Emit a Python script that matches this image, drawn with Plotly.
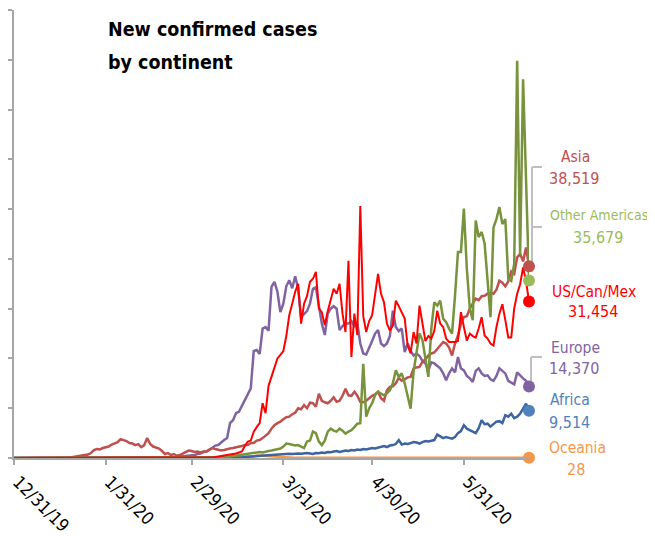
import pandas as pd
import plotly.graph_objects as go

# ---------------- data (daily new cases, thousands; last point = 2020-06-22) ----------------
END_DATE = "2020-06-22"

asia_k = [0.0] * 17 + [
    0.05, 0.1, 0.1, 0.2, 0.3, 0.3, 0.5, 0.5, 0.7, 1.0,            # d17-26
    1.6, 1.8, 1.7, 2.0, 2.1, 2.3, 2.7, 3.0, 3.2, 3.8,             # d27-36
    3.6, 3.4, 3.0, 2.9, 2.6, 2.8, 2.2, 2.6, 4.0, 2.8,             # d37-46
    2.3, 2.1, 1.9, 1.4, 0.8, 1.0, 0.6, 0.8, 0.45, 0.6,            # d47-56
    0.9, 1.1, 1.5, 1.4, 1.2, 1.3, 1.1, 1.3, 1.3, 1.7,             # d57-66
    2.0, 1.8, 1.6, 1.5, 1.6, 1.8, 1.9, 2.0, 2.1, 2.2,             # d67-76
    2.4, 2.6, 2.6, 3.0, 3.0, 3.5, 3.6, 4.0, 4.5, 5.0,             # d77-86
    5.9, 6.6, 7.0, 7.3, 7.8, 8.2, 8.3, 8.8, 9.1, 10.0,            # d87-96
    9.8, 10.6, 10.0, 11.1, 11.0, 10.3, 12.9, 11.5, 11.2, 11.0,    # d97-106
    11.5, 12.2, 11.3, 11.5, 12.5, 13.9, 12.6, 12.5, 13.3, 12.5,   # d107-116
    11.3, 11.2, 11.5, 12.0, 12.5, 12.8, 13.3, 12.0, 11.5, 13.6,   # d117-126
    14.3, 14.4, 15.0, 16.1, 15.5, 15.8, 16.2, 16.3, 18.0, 18.2,   # d127-136
    18.3, 19.3, 19.8, 20.6, 21.0, 21.2, 21.9, 22.5, 23.3, 23.0,   # d137-146
    22.2, 20.6, 23.0, 24.6, 27.0, 28.3, 28.5, 30.0, 31.0, 32.0,   # d147-156
    31.7, 32.5, 32.6, 33.0, 33.2, 33.0, 33.8, 35.6, 35.2, 34.5,   # d157-166
    35.5, 37.5, 37.0, 40.3, 41.0, 39.5, 42.3, 38.519,             # d167-174
]

other_americas_k = [0.0] * 66 + [
    0.02, 0.05, 0.05, 0.1,                                        # d66-69
    0.1, 0.15, 0.2, 0.3, 0.35, 0.45, 0.5, 0.6, 0.7, 0.8,          # d70-79
    0.9, 1.0, 1.1, 1.2, 1.1, 1.3, 1.4, 1.5, 1.6, 1.7,             # d80-89
    1.9, 2.3, 2.9, 2.8, 2.6, 2.5, 2.6, 2.3, 2.0, 3.3,             # d90-99
    3.5, 5.3, 5.0, 3.3, 2.6, 3.5, 5.3, 5.9, 5.5, 5.3,             # d100-109
    5.9, 5.5, 4.9, 5.3, 5.6, 6.2, 6.9, 7.0, 18.9, 8.3,            # d110-119
    10.0, 11.0, 12.6, 13.3, 13.0, 12.6, 13.0, 13.6, 15.0, 17.6,   # d120-129
    16.3, 17.0, 15.0, 12.6, 9.9, 17.3, 21.3, 25.0, 23.7, 20.0,    # d130-139
    16.3, 26.0, 31.3, 30.6, 31.6, 28.0, 27.3, 26.0, 25.0, 32.6,   # d140-149
    41.4, 41.4, 50.1, 38.0, 30.0, 27.7, 47.7, 44.4, 45.4, 43.1,   # d150-159
    36.4, 28.3, 46.3, 48.0, 50.4, 47.0, 48.0, 36.0, 35.6, 39.0,   # d160-169
    79.8, 40.8, 76.1, 55.0, 35.679,                               # d170-174
]

us_can_mex_k = [0.0] * 65 + [
    0.05, 0.1, 0.15, 0.2, 0.3,                                    # d65-69
    0.3, 0.4, 0.5, 0.6, 0.8, 0.9, 1.1, 1.3, 2.4, 3.3,             # d70-79
    3.5, 5.3, 6.2, 7.0, 11.0, 9.0, 14.5, 16.5, 18.3, 20.0,        # d80-89
    20.7, 21.5, 24.5, 28.7, 31.0, 33.4, 35.0, 27.0, 31.0, 32.5,   # d90-99
    35.4, 36.0, 37.4, 30.0, 29.3, 26.7, 29.5, 31.5, 34.0, 33.0,   # d100-109
    35.0, 29.0, 25.3, 39.6, 20.3, 29.0, 24.7, 50.6, 28.5, 25.3,   # d110-119
    27.5, 28.7, 33.0, 37.0, 33.0, 31.3, 27.0, 25.6, 26.6, 31.6,   # d120-129
    30.5, 29.3, 28.0, 22.6, 21.0, 25.3, 23.0, 30.6, 27.0, 23.5,   # d130-139
    24.5, 24.0, 25.5, 29.6, 27.0, 26.3, 24.0, 23.3, 23.3, 23.3,   # d140-149
    23.5, 29.3, 26.3, 23.6, 25.0, 24.5, 24.2, 26.0, 28.3, 24.6,   # d150-159
    24.0, 23.0, 22.6, 26.3, 29.0, 30.9, 27.7, 24.2, 24.2, 30.0,   # d160-169
    33.0, 34.9, 38.3, 35.5, 31.454,                               # d170-174
]

europe_k = [0.0] * 52 + [
    0.05, 0.1, 0.15, 0.2, 0.25, 0.3, 0.35, 0.45,                  # d52-59
    0.5, 0.6, 0.8, 0.9, 1.2, 1.3, 1.6, 2.0, 2.5, 2.6,             # d60-69
    3.2, 3.6, 4.0, 7.0, 7.6, 9.0, 9.3, 10.5, 11.6, 12.9,          # d70-79
    14.0, 21.5, 21.7, 20.9, 26.0, 26.3, 25.6, 34.4, 35.4, 33.4,   # d80-89
    29.3, 31.0, 34.5, 35.7, 34.1, 36.5, 34.0, 28.3, 29.0, 29.5,   # d90-99
    31.0, 34.0, 34.3, 31.0, 27.0, 24.7, 29.0, 30.0, 30.5, 30.0,   # d100-109
    25.7, 26.5, 27.0, 27.0, 27.5, 26.5, 27.0, 23.0, 21.0, 20.8,   # d110-119
    22.0, 23.5, 25.0, 25.7, 23.0, 22.5, 23.0, 24.5, 29.6, 26.3,   # d120-129
    25.5, 26.0, 21.3, 23.0, 21.5, 20.6, 21.0, 20.5, 19.5, 19.0,   # d130-139
    17.6, 19.2, 19.0, 18.5, 18.0, 17.0, 15.6, 17.0, 18.0, 17.2,   # d140-149
    20.3, 18.0, 17.6, 16.5, 16.0, 15.3, 17.5, 18.0, 17.0, 16.5,   # d150-159
    16.6, 15.8, 15.5, 16.5, 18.0, 17.5, 17.0, 15.5, 15.2, 14.8,   # d160-169
    17.2, 16.5, 16.0, 15.5, 14.370,                               # d170-174
]

africa_k = [0.0] * 70 + [
    0.02, 0.03, 0.05, 0.06, 0.08, 0.1, 0.12, 0.15, 0.2, 0.25,     # d70-79
    0.3, 0.35, 0.4, 0.45, 0.5, 0.5, 0.55, 0.6, 0.65, 0.7,         # d80-89
    0.7, 0.75, 0.8, 0.85, 0.8, 0.9, 0.9, 0.85, 0.95, 1.0,         # d90-99
    0.9, 0.8, 1.0, 0.95, 1.1, 1.0, 1.2, 1.15, 1.3, 1.4,           # d100-109
    1.2, 1.3, 1.5, 1.4, 1.6, 1.5, 1.7, 1.6, 1.8, 1.7,             # d110-119
    1.9, 2.0, 1.9, 2.1, 2.3, 2.4, 2.2, 2.5, 2.6, 2.8,             # d120-129
    3.6, 2.7, 2.9, 2.8, 3.0, 3.2, 3.1, 2.9, 3.2, 3.4,             # d130-139
    3.3, 3.4, 3.6, 4.7, 4.3, 4.0, 4.2, 4.0, 3.9, 4.2,             # d140-149
    5.0, 5.4, 6.6, 5.9, 5.6, 5.2, 5.0, 6.0, 7.6, 6.8,             # d150-159
    6.9, 6.3, 6.8, 7.3, 7.4, 7.0, 8.6, 8.3, 8.9, 8.0,             # d160-169
    8.3, 8.9, 9.9, 10.9, 9.514,                                   # d170-174
]

oceania_k = [0.0] * 70 + [
    0.02, 0.03, 0.05, 0.08, 0.1, 0.15, 0.2, 0.25, 0.3, 0.35,      # d70-79
    0.4, 0.45, 0.4, 0.45, 0.5, 0.4, 0.35, 0.35, 0.3, 0.3,         # d80-89
    0.25, 0.2, 0.15, 0.12, 0.1, 0.1, 0.08, 0.06, 0.05, 0.05,      # d90-99
] + [0.03, 0.02, 0.04, 0.03, 0.02] * 14 + [0.03, 0.02, 0.04, 0.03, 0.028]

series_names = ["Oceania", "Africa", "Europe", "Asia", "Other Americas", "US/Can/Mex"]
series_values = [oceania_k, africa_k, europe_k, asia_k, other_americas_k, us_can_mex_k]
latest_labels = ["28", "9,514", "14,370", "38,519", "35,679", "31,454"]

tick_dates = ["2019-12-31", "2020-01-31", "2020-02-29", "2020-03-31", "2020-04-30", "2020-05-31"]
tick_labels = ["12/31/19", "1/31/20", "2/29/20", "3/31/20", "4/30/20", "5/31/20"]

# ---------------- styles ----------------
line_colors = {"Oceania": "#F79646", "Africa": "#3C64A0", "Europe": "#8064A2",
               "Asia": "#C0504D", "Other Americas": "#77933C", "US/Can/Mex": "#FF0000"}
dot_colors = {"Oceania": "#F79646", "Africa": "#4F81BD", "Europe": "#8064A2",
              "Asia": "#C0504D", "Other Americas": "#9BBB59", "US/Can/Mex": "#FF0000"}
line_widths = {"Oceania": 2.5, "Africa": 2.5, "Europe": 2.5, "Asia": 2.5,
               "Other Americas": 2.5, "US/Can/Mex": 2.0}
FONT = "'Liberation Sans Narrow', 'Arial Narrow', 'DejaVu Sans Condensed', sans-serif"
name_sizes = {"Asia": 15.5, "Other Americas": 14, "US/Can/Mex": 15.5,
              "Europe": 15.5, "Africa": 15.5, "Oceania": 15.5}

fig = go.Figure()
for name, vals in zip(series_names, series_values):
    dates = pd.date_range(end=END_DATE, periods=len(vals), freq="D")
    y = [v * 1000 for v in vals]
    fig.add_trace(go.Scatter(x=dates, y=y, mode="lines",
                             line=dict(color=line_colors[name], width=line_widths[name]),
                             showlegend=False, hoverinfo="skip"))
for name, vals in zip(series_names, series_values):
    dates = pd.date_range(end=END_DATE, periods=len(vals), freq="D")
    fig.add_trace(go.Scatter(x=[dates[-1]], y=[vals[-1] * 1000], mode="markers",
                             marker=dict(color=dot_colors[name], size=12),
                             cliponaxis=False, showlegend=False, hoverinfo="skip"))

# page has an 8px body margin; plot area on the page: x 14..529, y 10..458
def px(X):
    return (X - 14) / 515.0

def py(Y):
    return (458 - Y) / 448.0

annotations = []
label_pos = {  # (X centre, Y name, Y value) in page pixels
    "Asia": (575, 157, 178.5),
    "Other Americas": (599, 215, 237.5),
    "US/Can/Mex": (594, 292, 311.5),
    "Europe": (575, 348, 368.5),
    "Africa": (570, 400, 422.5),
    "Oceania": (577, 447.5, 469),
}
for name, lab in zip(series_names, latest_labels):
    X, Yn, Yv = label_pos[name]
    annotations.append(dict(x=px(X), y=py(Yn), xref="paper", yref="paper", text=name,
                            showarrow=False, xanchor="center", yanchor="middle",
                            font=dict(family=FONT, size=name_sizes[name], color=dot_colors[name])))
    annotations.append(dict(x=px(X - 1), y=py(Yv), xref="paper", yref="paper", text=lab,
                            showarrow=False, xanchor="center", yanchor="middle",
                            font=dict(family=FONT, size=16, color=dot_colors[name])))

annotations.append(dict(x=px(106), y=py(29), xref="paper", yref="paper",
                        text="<b>New confirmed cases</b>", showarrow=False,
                        xanchor="left", yanchor="middle",
                        font=dict(family=FONT, size=19.5, color="#000000")))
annotations.append(dict(x=px(106), y=py(63), xref="paper", yref="paper",
                        text="<b>by continent</b>", showarrow=False,
                        xanchor="left", yanchor="middle",
                        font=dict(family=FONT, size=19.5, color="#000000")))

bracket = dict(color="#BFBFBF", width=2)
shapes = [
    dict(type="line", xref="paper", yref="paper", x0=px(532), x1=px(532), y0=py(167), y1=py(272), line=bracket, layer="below"),
    dict(type="line", xref="paper", yref="paper", x0=px(532), x1=px(542), y0=py(167), y1=py(167), line=bracket, layer="below"),
    dict(type="line", xref="paper", yref="paper", x0=px(532), x1=px(542), y0=py(227), y1=py(227), line=bracket, layer="below"),
    dict(type="line", xref="paper", yref="paper", x0=px(531), x1=px(531), y0=py(357), y1=py(384), line=bracket, layer="below"),
    dict(type="line", xref="paper", yref="paper", x0=px(531), x1=px(542), y0=py(357), y1=py(357), line=bracket, layer="below"),
]

fig.update_layout(
    width=647, height=528,
    margin=dict(l=6, r=126, t=2, b=78),
    paper_bgcolor="white", plot_bgcolor="rgba(0,0,0,0)",
    annotations=annotations, shapes=shapes,
    font=dict(family=FONT, size=16, color="#000000"),
    xaxis=dict(type="date", range=["2019-12-31", END_DATE], automargin=False,
               tickmode="array", tickvals=tick_dates, ticktext=tick_labels,
               tickangle=45, ticks="outside", ticklen=5, tickwidth=1.5, tickcolor="#A6A6A6",
               ticklabeloverflow="allow", ticklabelshift=4,
               showline=True, linecolor="#A6A6A6", linewidth=1.5,
               showgrid=False, zeroline=False,
               tickfont=dict(family=FONT, size=17.5, color="#000000")),
    yaxis=dict(range=[0, 90000], dtick=10000, tick0=0, automargin=False,
               ticks="outside", ticklen=4, tickwidth=1.5, tickcolor="#A6A6A6",
               showline=True, linecolor="#A6A6A6", linewidth=2,
               showticklabels=False, showgrid=False, zeroline=False),
)

fig.write_html("out.html")
